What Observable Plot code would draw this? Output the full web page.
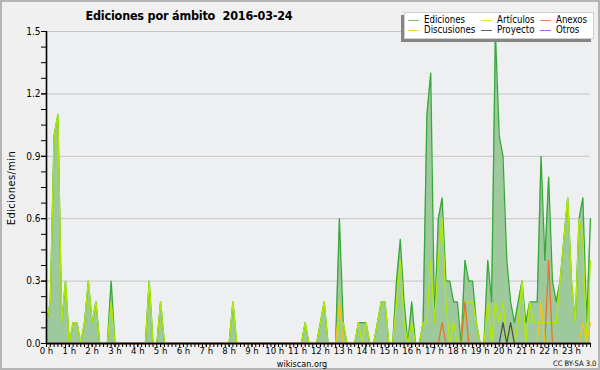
<!DOCTYPE html>
<html>
<head>
<meta charset="utf-8">
<script src="https://cdn.jsdelivr.net/npm/d3@7"></script>
<script src="https://cdn.jsdelivr.net/npm/@observablehq/plot@0.6"></script>
<style>
  html, body { margin: 0; padding: 0; background: #f0f0f0; }
  #wrap { position: relative; width: 600px; height: 370px; overflow: hidden; background: #f0f0f0;
          font-family: "DejaVu Sans Condensed", "DejaVu Sans", sans-serif; color: #000; }
  #wrap svg { position: absolute; left: 0; top: 0; }
  .ov { position: absolute; white-space: pre; line-height: 1; }
  #border { position: absolute; left: 0; top: 0; width: 596px; height: 366px; border: 2px solid #b4b4b4; pointer-events: none; }
  #title { left: 0; width: 378px; text-align: center; top: 10px; font-weight: bold; font-size: 12.5px; letter-spacing: -0.2px; }
  #ylab { left: 11px; top: 188px; font-size: 11px; letter-spacing: 0.4px; transform: translate(-50%, -50%) rotate(-90deg); }
  #site { left: 0; width: 604px; text-align: center; top: 359.5px; font-size: 9px; }
  #cc { left: 553px; top: 360px; font-size: 7.5px; }
  #legend { position: absolute; left: 404px; top: 12px; width: 188px; height: 25px; background: #fff;
            border: 1px solid #d0d0d0; box-shadow: -3px 3px 0 #858585; font-size: 9.6px; }
  .item { position: absolute; height: 10px; line-height: 10px; white-space: nowrap; }
  .sw { position: absolute; left: 0; top: 5px; width: 11px; height: 1px; }
  .tx { position: absolute; left: 16px; top: 0; }
</style>
</head>
<body>
<div id="wrap">
  <div id="chart"></div>
  <div id="border"></div>
  <div class="ov" id="title">Ediciones por ámbito  2016-03-24</div>
  <div class="ov" id="ylab">Ediciones/min</div>
  <div class="ov" id="site">wikiscan.org</div>
  <div class="ov" id="cc">CC BY-SA 3.0</div>
  <div id="legend"></div>
</div>
<script>
// 10-minute bins, 0:00 .. 23:50, edits per minute
const ediciones = [
  0.1,0.2,1.0,1.1,0.1,0.3,0,0.1,0.1,0,0.1,0.3,
  0.1,0.2,0,0,0,0.3,0,0,0,0,0,0,
  0,0,0,0.3,0,0,0.2,0,0,0,0,0,
  0,0,0,0,0,0,0,0,0,0,0,0,
  0,0.2,0,0,0,0,0,0,0,0,0,0,
  0,0,0,0,0,0,0,0,0.1,0,0,0,
  0.1,0.2,0,0,0,0.6,0.1,0,0,0,0.1,0.1,
  0.1,0,0,0.1,0.2,0.2,0,0,0.3,0.5,0.2,0,
  0.2,0,0,0.1,1.1,1.3,0.1,0.6,0.7,0.3,0.3,0.2,
  0.2,0,0.4,0.3,0.3,0.1,0,0,0.4,0.2,1.5,1.0,
  0.9,0.4,0.2,0.1,0.2,0.3,0.1,0.2,0.2,0.2,0.9,0.4,
  0.8,0.3,0.2,0.3,0.5,0.7,0.3,0.1,0.6,0.7,0.1,0.6
];
const articulos = [
  0.1,0.2,1.0,1.1,0.1,0.3,0,0.1,0.1,0,0.1,0.3,
  0.1,0.2,0,0,0,0.2,0,0,0,0,0,0,
  0,0,0,0.3,0,0,0.2,0,0,0,0,0,
  0,0,0,0,0,0,0,0,0,0,0,0,
  0,0.2,0,0,0,0,0,0,0,0,0,0,
  0,0,0,0,0,0,0,0,0.1,0,0,0,
  0.1,0.2,0,0,0,0.1,0.1,0,0,0,0.1,0,
  0.1,0,0,0.1,0.2,0.2,0,0,0.2,0.4,0.1,0,
  0.1,0,0,0.1,0.1,0.4,0.1,0.4,0.6,0.2,0,0.1,
  0,0,0.2,0.2,0.2,0.1,0,0,0.2,0,0.2,0.1,
  0.2,0,0.1,0,0.1,0.3,0,0.2,0.1,0.1,0.1,0.1,
  0.1,0.1,0.1,0.3,0.5,0.7,0.3,0.1,0.6,0.5,0,0.4
];
const anexos = [
  0,0,0,0,0,0,0,0,0,0,0,0,
  0,0,0,0,0,0,0,0,0,0,0,0,
  0,0,0,0,0,0,0,0,0,0,0,0,
  0,0,0,0,0,0,0,0,0,0,0,0,
  0,0,0,0,0,0,0,0,0,0,0,0,
  0,0,0,0,0,0,0,0,0,0,0,0,
  0,0,0,0,0,0,0,0,0,0,0,0,
  0,0,0,0,0,0,0,0,0,0,0,0,
  0,0,0,0,0,0,0,0,0.1,0,0,0,
  0,0,0.2,0,0,0,0,0,0,0,0,0,
  0,0,0,0,0,0,0,0,0,0,0,0,
  0.4,0,0,0,0,0,0,0,0,0,0,0
];
const discusiones = [
  0,0,0,0,0,0,0,0,0,0,0,0,
  0,0,0,0,0,0,0,0,0,0,0,0,
  0,0,0,0,0,0,0,0,0,0,0,0,
  0,0,0,0,0,0,0,0,0,0,0,0,
  0,0,0,0,0,0,0,0,0,0,0,0,
  0,0,0,0,0,0,0,0,0,0,0,0,
  0,0,0,0,0,0.2,0,0,0,0,0,0,
  0,0,0,0,0,0,0,0,0,0,0,0,
  0,0,0,0,0,0,0,0,0,0,0,0,
  0,0,0,0,0,0,0,0,0,0,0,0,
  0,0,0,0,0,0,0,0,0,0,0.2,0,
  0,0,0,0,0,0,0,0,0,0.1,0,0.1
];
const proyecto = [
  0,0,0,0,0,0,0,0,0,0,0,0,
  0,0,0,0,0,0,0,0,0,0,0,0,
  0,0,0,0,0,0,0,0,0,0,0,0,
  0,0,0,0,0,0,0,0,0,0,0,0,
  0,0,0,0,0,0,0,0,0,0,0,0,
  0,0,0,0,0,0,0,0,0,0,0,0,
  0,0,0,0,0,0,0,0,0,0,0,0,
  0,0,0,0,0,0,0,0,0,0,0,0,
  0,0,0,0,0,0,0,0,0,0,0,0,
  0,0,0,0,0,0,0,0,0,0,0,0,
  0.1,0,0.1,0,0,0,0,0,0,0,0,0,
  0,0,0,0,0,0,0,0,0,0,0,0
];
const otros = [
  0,0,0,0,0,0,0,0,0,0,0,0,
  0,0,0,0,0,0,0,0,0,0,0,0,
  0,0,0,0,0,0,0,0,0,0,0,0,
  0,0,0,0,0,0,0,0,0,0,0,0,
  0,0,0,0,0,0,0,0,0,0,0,0,
  0,0,0,0,0,0,0,0,0,0,0,0,
  0,0,0,0,0,0,0,0,0,0,0,0,
  0,0,0,0,0,0,0,0,0,0,0,0,
  0,0,0,0,0,0,0,0,0,0,0,0,
  0,0,0,0,0,0,0,0,0,0,0,0,
  0,0,0,0,0,0,0,0,0,0,0,0,
  0,0,0,0,0,0,0,0,0,0,0,0
];
const hourTicks = [0,1,2,3,4,5,6,7,8,9,10,11,12,13,14,15,16,17,18,19,20,21,22,23];
const yTicks = [0, 0.3, 0.6, 0.9, 1.2, 1.5];

const seriesNames = ["Ediciones", "Artículos", "Anexos", "Discusiones", "Proyecto", "Otros"];
const seriesColors = ["#38a838", "#b2ea00", "#f0702a", "#f2c41c", "#505050", "#9a4cf0"];
const legendColors = ["#6cc86c", "#c8f040", "#f08050", "#f8d040", "#606060", "#a060f8"];
const seriesValues = [ediciones, articulos, anexos, discusiones, proyecto, otros];

const N = ediciones.length;
const rows = [];
seriesNames.forEach((name, s) => {
  seriesValues[s].forEach((v, i) => rows.push({t: i / 6, v, serie: name}));
});
const edRows = rows.filter(d => d.serie === "Ediciones");
const minorX = d3.range(0, N).map(i => i / 6);
const minorY = d3.range(0, 21).map(i => i * 0.075);

const chart = Plot.plot({
  width: 600,
  height: 370,
  marginLeft: 46,
  marginRight: 10,
  marginTop: 31,
  marginBottom: 27,
  style: {background: "transparent", fontFamily: "'DejaVu Sans Condensed', 'DejaVu Sans', sans-serif", fontSize: "10px", color: "#000", overflow: "visible"},
  x: {domain: [0, (N - 1) / 6], axis: null},
  y: {domain: [0, 1.5], axis: null},
  marks: [
    Plot.frame({fill: "#edeff1", stroke: "none"}),
    Plot.gridY(yTicks, {stroke: "#c6c6c6", strokeOpacity: 1, strokeWidth: 1}),
    Plot.areaY(edRows, {x: "t", y: "v", fill: "#9dc99d"}),
    ...seriesNames.map((name, s) =>
      Plot.lineY(rows.filter(d => d.serie === name), {x: "t", y: "v", stroke: seriesColors[s], strokeWidth: 1.3})
    ),
    Plot.axisY({ticks: minorY, tickSize: 5, tickFormat: () => "", anchor: "left", stroke: "#000", label: null}),
    Plot.axisY({ticks: yTicks, tickSize: 5, tickPadding: 1, tickFormat: d3.format(".1f"), anchor: "left", stroke: "#000", label: null}),
    Plot.axisX({ticks: minorX, tickSize: 4, tickFormat: () => "", anchor: "bottom", stroke: "#000", label: null}),
    Plot.axisX({ticks: hourTicks, tickSize: 4, tickPadding: 0, fontSize: 9.5, tickFormat: d => d + " h", anchor: "bottom", stroke: "#000", label: null}),
    Plot.ruleY([0], {stroke: "#000", strokeWidth: 1.6}),
    Plot.ruleX([0], {stroke: "#000", strokeWidth: 1.6})
  ]
});
document.getElementById("chart").appendChild(chart);

// legend
const legend = document.getElementById("legend");
const colX = [3, 76, 135];
seriesNames.forEach((name, i) => {
  const item = document.createElement("div");
  item.className = "item";
  item.style.left = colX[i % 3] + "px";
  item.style.top = (i < 3 ? 2 : 12) + "px";
  const sw = document.createElement("span");
  sw.className = "sw";
  sw.style.background = legendColors[i];
  const tx = document.createElement("span");
  tx.className = "tx";
  tx.textContent = name;
  item.appendChild(sw);
  item.appendChild(tx);
  legend.appendChild(item);
});
</script>
</body>
</html>
